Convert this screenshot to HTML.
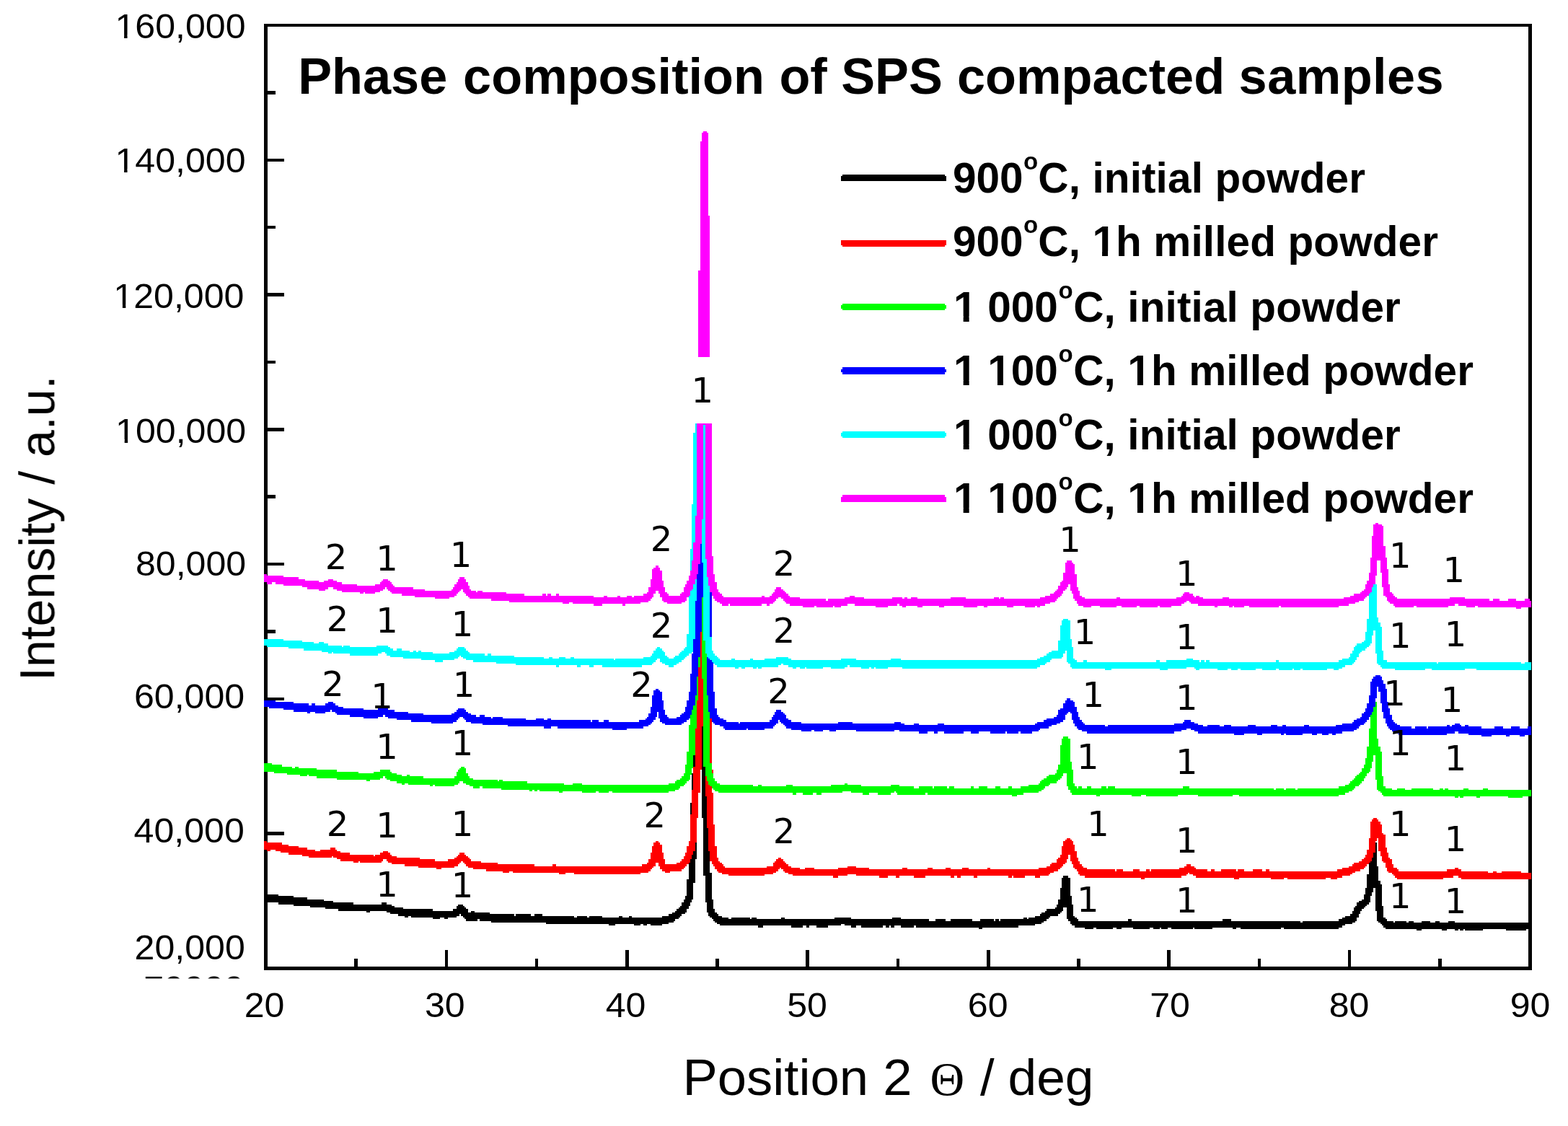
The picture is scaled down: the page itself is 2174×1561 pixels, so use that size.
<!DOCTYPE html>
<html lang="en">
<head>
<meta charset="utf-8">
<title>Phase composition of SPS compacted samples</title>
<style>
html,body{margin:0;padding:0;background:#fff;}
body{width:2174px;height:1561px;overflow:hidden;}
svg{display:block;}
text{font-family:"Liberation Sans",Arial,Helvetica,sans-serif;fill:#000;}
.tk{font-size:47.5px;}
.ttl{font-size:70.3px;font-weight:bold;}
.lg{font-size:58.5px;font-weight:bold;}
.sup{font-size:33px;}
.ax{font-size:70.5px;}
.ay{font-size:68px;}
.th{font-family:"Liberation Serif","DejaVu Serif",serif;font-size:66px;}
.an{font-family:"DejaVu Sans","Liberation Sans",sans-serif;font-size:48px;text-anchor:middle;}
</style>
</head>
<body>
<svg xmlns="http://www.w3.org/2000/svg" width="2174" height="1561" viewBox="0 0 2174 1561">
<rect width="2174" height="1561" fill="#fff"/>
<!-- frame and ticks -->
<g fill="#000" shape-rendering="crispEdges">
<rect x="366.0" y="32.7" width="1757.9" height="4.6"/>
<rect x="366.0" y="1340.0" width="1757.9" height="4.6"/>
<rect x="366.0" y="32.7" width="4.6" height="1311.9"/>
<rect x="2119.3" y="32.7" width="4.6" height="1311.9"/>
<rect x="366.0" y="1246.6" width="16.2" height="4.6"/>
<rect x="366.0" y="1153.2" width="27.9" height="4.6"/>
<rect x="366.0" y="1059.9" width="16.2" height="4.6"/>
<rect x="366.0" y="966.5" width="27.9" height="4.6"/>
<rect x="366.0" y="873.1" width="16.2" height="4.6"/>
<rect x="366.0" y="779.7" width="27.9" height="4.6"/>
<rect x="366.0" y="686.4" width="16.2" height="4.6"/>
<rect x="366.0" y="593.0" width="27.9" height="4.6"/>
<rect x="366.0" y="499.6" width="16.2" height="4.6"/>
<rect x="366.0" y="406.2" width="27.9" height="4.6"/>
<rect x="366.0" y="312.8" width="16.2" height="4.6"/>
<rect x="366.0" y="219.5" width="27.9" height="4.6"/>
<rect x="366.0" y="126.1" width="16.2" height="4.6"/>
<rect x="491.2" y="1328.5" width="4.6" height="16.1"/>
<rect x="616.5" y="1317.0" width="4.6" height="27.6"/>
<rect x="741.7" y="1328.5" width="4.6" height="16.1"/>
<rect x="866.9" y="1317.0" width="4.6" height="27.6"/>
<rect x="992.2" y="1328.5" width="4.6" height="16.1"/>
<rect x="1117.4" y="1317.0" width="4.6" height="27.6"/>
<rect x="1242.7" y="1328.5" width="4.6" height="16.1"/>
<rect x="1367.9" y="1317.0" width="4.6" height="27.6"/>
<rect x="1493.1" y="1328.5" width="4.6" height="16.1"/>
<rect x="1618.4" y="1317.0" width="4.6" height="27.6"/>
<rect x="1743.6" y="1328.5" width="4.6" height="16.1"/>
<rect x="1868.8" y="1317.0" width="4.6" height="27.6"/>
<rect x="1994.1" y="1328.5" width="4.6" height="16.1"/>
</g>
<g transform="scale(2.3)" shape-rendering="crispEdges"><path fill="#000000" d="M159 539h3v4h-3zM162 539h6v5h-6zM168 540h9v5h-9zM177 541h8v5h-8zM185 542h2v4h-2zM187 542h8v5h-8zM195 543h1v4h-1zM196 543h5v5h-5zM201 544h3v4h-3zM204 544h9v5h-9zM213 545h8v4h-8zM221 545h2v5h-2zM223 545h7v4h-7zM230 544h3v5h-3zM233 545h2v5h-2zM235 545h1v6h-1zM236 546h2v5h-2zM238 547h2v4h-2zM240 547h3v5h-3zM243 548h1v4h-1zM244 548h2v5h-2zM246 548h2v4h-2zM248 548h13v5h-13zM261 549h4v5h-4zM265 549h3v4h-3zM268 549h2v5h-2zM270 549h3v4h-3zM273 548h2v5h-2zM275 546h1v6h-1zM276 545h1v7h-1zM277 545h1v6h-1zM278 545h1v7h-1zM279 546h1v7h-1zM280 547h1v7h-1zM281 548h1v7h-1zM282 550h2v5h-2zM284 549h2v6h-2zM286 550h2v5h-2zM288 550h1v4h-1zM289 550h6v5h-6zM295 551h1v4h-1zM296 551h14v5h-14zM310 552h1v4h-1zM311 551h9v5h-9zM320 552h2v4h-2zM322 551h5v5h-5zM327 552h2v4h-2zM329 552h17v5h-17zM346 553h2v4h-2zM348 552h6v5h-6zM354 553h1v4h-1zM355 552h8v5h-8zM363 553h4v4h-4zM367 553h4v5h-4zM371 553h2v4h-2zM373 552h2v5h-2zM375 553h4v4h-4zM379 552h2v5h-2zM381 553h1v4h-1zM382 553h4v5h-4zM386 553h2v4h-2zM388 553h2v5h-2zM390 553h2v4h-2zM392 553h7v5h-7zM399 552h4v5h-4zM403 551h2v5h-2zM405 550h1v6h-1zM406 550h1v5h-1zM407 549h1v5h-1zM408 548h1v6h-1zM409 547h1v6h-1zM410 546h1v6h-1zM411 544h1v7h-1zM412 542h1v9h-1zM413 540h1v10h-1zM414 530h1v18h-1zM415 520h1v26h-1zM416 484h1v7h-1zM416 518h1v26h-1zM417 466h1v10h-1zM417 515h1v27h-1zM418 455h1v7h-1zM418 513h1v19h-1zM419 508h1v10h-1zM423 438h1v55h-1zM424 462h1v66h-1zM425 480h1v64h-1zM426 499h1v51h-1zM427 513h1v39h-1zM428 526h1v27h-1zM429 542h1v12h-1zM430 548h1v7h-1zM431 550h1v6h-1zM432 551h1v6h-1zM433 552h1v5h-1zM434 552h1v6h-1zM435 553h4v5h-4zM439 554h2v4h-2zM441 553h11v5h-11zM452 554h1v4h-1zM453 553h3v5h-3zM456 554h1v4h-1zM457 554h3v5h-3zM460 554h11v4h-11zM471 553h2v5h-2zM473 554h4v4h-4zM477 554h7v5h-7zM484 554h2v4h-2zM486 554h2v5h-2zM488 554h4v4h-4zM492 554h7v5h-7zM499 554h4v4h-4zM503 553h4v5h-4zM507 553h2v4h-2zM509 553h4v5h-4zM513 554h3v5h-3zM516 554h3v4h-3zM519 554h13v5h-13zM532 554h2v4h-2zM534 554h2v5h-2zM536 554h1v4h-1zM537 554h1v5h-1zM538 553h1v6h-1zM539 553h4v5h-4zM543 554h8v5h-8zM551 554h1v4h-1zM552 554h8v5h-8zM560 555h4v4h-4zM564 554h6v5h-6zM570 555h3v4h-3zM573 554h13v5h-13zM586 555h4v4h-4zM590 555h1v5h-1zM591 554h1v6h-1zM592 554h7v5h-7zM599 555h1v4h-1zM600 554h2v5h-2zM602 555h1v4h-1zM603 554h11v5h-11zM614 554h3v4h-3zM617 553h2v5h-2zM619 554h1v4h-1zM620 553h4v5h-4zM624 552h3v5h-3zM627 551h1v6h-1zM628 550h1v6h-1zM629 550h1v5h-1zM630 549h1v6h-1zM631 548h1v6h-1zM632 548h1v5h-1zM633 548h3v4h-3zM636 547h1v5h-1zM637 545h1v7h-1zM638 542h1v9h-1zM639 535h1v15h-1zM640 529h1v20h-1zM641 528h2v19h-2zM643 528h1v26h-1zM644 529h1v26h-1zM645 540h1v17h-1zM646 545h1v13h-1zM647 552h1v6h-1zM648 553h1v6h-1zM649 554h1v5h-1zM650 555h4v4h-4zM654 555h5v5h-5zM659 555h2v4h-2zM661 555h10v5h-10zM671 555h2v4h-2zM673 555h3v5h-3zM676 555h4v4h-4zM680 554h2v5h-2zM682 555h1v4h-1zM683 555h10v5h-10zM693 555h2v4h-2zM695 555h4v5h-4zM699 555h1v4h-1zM700 555h4v5h-4zM704 555h2v4h-2zM706 555h13v5h-13zM719 555h1v4h-1zM720 555h11v5h-11zM731 555h6v4h-6zM737 554h5v5h-5zM742 555h1v4h-1zM743 555h2v5h-2zM745 555h3v4h-3zM748 555h24v5h-24zM772 555h2v4h-2zM774 555h10v5h-10zM784 556h1v4h-1zM785 555h22v5h-22zM807 554h2v5h-2zM809 553h2v5h-2zM811 552h3v5h-3zM814 551h1v6h-1zM815 549h1v7h-1zM816 547h1v9h-1zM817 546h1v9h-1zM818 544h1v9h-1zM819 543h1v8h-1zM820 543h1v6h-1zM821 542h1v6h-1zM822 539h1v8h-1zM823 535h1v11h-1zM824 527h1v18h-1zM825 520h1v24h-1zM826 519h1v21h-1zM827 517h1v21h-1zM828 514h1v21h-1zM829 508h1v41h-1zM830 522h1v33h-1zM831 531h1v25h-1zM832 533h1v24h-1zM833 546h1v12h-1zM834 553h1v6h-1zM835 554h1v6h-1zM836 555h4v5h-4zM840 556h1v4h-1zM841 555h7v5h-7zM848 556h1v4h-1zM849 555h3v5h-3zM852 556h2v4h-2zM854 556h3v5h-3zM857 555h5v5h-5zM862 556h3v4h-3zM865 555h3v5h-3zM868 556h1v4h-1zM869 556h3v5h-3zM872 556h1v4h-1zM873 555h4v5h-4zM877 556h2v5h-2zM879 556h1v4h-1zM880 556h2v5h-2zM882 556h1v4h-1zM883 556h11v5h-11zM894 556h14v4h-14zM908 556h12v5h-12zM920 556h2v4h-2zM922 556h1v5h-1z"/><path fill="#ff0000" d="M159 507h2v5h-2zM161 508h2v5h-2zM163 508h3v4h-3zM166 508h3v5h-3zM169 508h1v6h-1zM170 509h4v5h-4zM174 510h6v5h-6zM180 511h2v4h-2zM182 511h3v5h-3zM185 512h1v4h-1zM186 512h4v5h-4zM190 513h3v4h-3zM193 512h6v5h-6zM199 511h1v6h-1zM200 511h1v5h-1zM201 511h1v6h-1zM202 512h1v5h-1zM203 513h2v5h-2zM205 514h6v5h-6zM211 515h2v4h-2zM213 515h3v5h-3zM216 515h1v4h-1zM217 515h8v5h-8zM225 516h1v4h-1zM226 515h3v5h-3zM229 514h1v6h-1zM230 514h1v5h-1zM231 513h2v5h-2zM233 513h1v6h-1zM234 514h1v6h-1zM235 515h1v5h-1zM236 516h3v5h-3zM239 517h5v4h-5zM244 517h8v5h-8zM252 517h1v6h-1zM253 518h9v5h-9zM262 519h1v4h-1zM263 519h3v5h-3zM266 519h4v4h-4zM270 518h4v5h-4zM274 517h1v5h-1zM275 516h1v6h-1zM276 515h1v6h-1zM277 514h1v6h-1zM278 514h1v5h-1zM279 514h1v6h-1zM280 515h1v6h-1zM281 516h1v6h-1zM282 517h1v6h-1zM283 518h1v5h-1zM284 519h1v4h-1zM285 519h5v5h-5zM290 520h3v4h-3zM293 520h7v5h-7zM300 521h3v4h-3zM303 521h4v5h-4zM307 521h2v4h-2zM309 521h13v5h-13zM322 522h11v4h-11zM333 521h2v5h-2zM335 522h2v4h-2zM337 522h4v5h-4zM341 522h5v4h-5zM346 522h40v5h-40zM386 522h1v4h-1zM387 521h3v5h-3zM390 520h1v6h-1zM391 518h1v7h-1zM392 514h1v10h-1zM393 510h1v13h-1zM394 508h1v14h-1zM395 507h2v13h-2zM397 508h1v14h-1zM398 509h1v15h-1zM399 514h1v11h-1zM400 518h1v7h-1zM401 521h3v5h-3zM404 521h4v4h-4zM408 520h2v5h-2zM410 519h1v6h-1zM411 518h1v6h-1zM412 516h1v7h-1zM413 514h1v8h-1zM414 510h1v11h-1zM415 507h1v13h-1zM416 491h1v27h-1zM417 476h1v39h-1zM418 462h1v51h-1zM419 439h1v69h-1zM420 422h1v71h-1zM421 402h1v76h-1zM422 381h1v83h-1zM423 409h1v29h-1zM425 468h1v12h-1zM426 471h1v28h-1zM427 473h1v40h-1zM428 433h1v27h-1zM428 474h1v45h-1zM429 464h1v2h-1zM429 478h1v43h-1zM430 497h1v25h-1zM431 510h1v14h-1zM432 517h1v8h-1zM433 519h1v7h-1zM434 520h1v6h-1zM435 521h1v6h-1zM436 522h1v5h-1zM437 523h2v4h-2zM439 523h22v5h-22zM461 523h1v4h-1zM462 522h4v5h-4zM466 520h1v6h-1zM467 519h1v7h-1zM468 518h1v7h-1zM469 517h1v7h-1zM470 517h1v6h-1zM471 518h1v6h-1zM472 519h1v6h-1zM473 520h1v6h-1zM474 521h1v5h-1zM475 522h2v5h-2zM477 523h1v4h-1zM478 523h4v5h-4zM482 524h3v4h-3zM485 523h6v5h-6zM491 524h11v4h-11zM502 524h3v5h-3zM505 523h6v5h-6zM511 522h5v5h-5zM516 523h8v5h-8zM524 524h6v4h-6zM530 524h5v5h-5zM535 524h5v4h-5zM540 524h2v5h-2zM542 524h2v4h-2zM544 523h3v5h-3zM547 524h4v4h-4zM551 524h7v5h-7zM558 524h1v4h-1zM559 523h3v5h-3zM562 524h8v4h-8zM570 523h3v5h-3zM573 524h2v5h-2zM575 524h2v4h-2zM577 524h2v5h-2zM579 524h1v4h-1zM580 523h4v5h-4zM584 524h3v4h-3zM587 524h2v5h-2zM589 524h6v4h-6zM595 523h2v5h-2zM597 524h11v4h-11zM608 524h2v5h-2zM610 524h1v4h-1zM611 524h7v5h-7zM618 524h6v4h-6zM624 524h2v5h-2zM626 523h1v6h-1zM627 523h4v5h-4zM631 522h1v6h-1zM632 522h1v5h-1zM633 521h1v5h-1zM634 520h1v6h-1zM635 520h2v5h-2zM637 518h1v7h-1zM638 517h1v7h-1zM639 515h1v8h-1zM640 510h1v12h-1zM641 507h1v14h-1zM642 506h1v14h-1zM643 505h1v13h-1zM644 505h1v10h-1zM645 506h1v13h-1zM646 507h1v14h-1zM647 509h1v14h-1zM648 513h1v11h-1zM649 517h1v8h-1zM650 519h1v8h-1zM651 521h1v7h-1zM652 522h1v6h-1zM653 523h1v5h-1zM654 523h1v6h-1zM655 524h17v5h-17zM672 525h1v4h-1zM673 524h4v5h-4zM677 525h6v4h-6zM683 524h4v5h-4zM687 525h1v4h-1zM688 525h2v5h-2zM690 525h1v4h-1zM691 524h2v5h-2zM693 525h1v4h-1zM694 524h17v5h-17zM711 523h1v6h-1zM712 523h2v5h-2zM714 522h1v6h-1zM715 521h1v6h-1zM716 521h1v5h-1zM717 521h1v6h-1zM718 522h1v5h-1zM719 522h1v6h-1zM720 523h1v5h-1zM721 524h7v5h-7zM728 525h2v4h-2zM730 524h2v5h-2zM732 525h4v4h-4zM736 524h8v5h-8zM744 524h1v6h-1zM745 525h1v5h-1zM746 524h1v6h-1zM747 524h3v5h-3zM750 525h5v4h-5zM755 524h6v5h-6zM761 525h2v4h-2zM763 524h2v5h-2zM765 525h1v4h-1zM766 525h8v5h-8zM774 525h2v4h-2zM776 525h23v5h-23zM799 525h3v4h-3zM802 525h4v5h-4zM806 524h3v5h-3zM809 523h4v5h-4zM813 522h1v6h-1zM814 522h1v5h-1zM815 521h1v5h-1zM816 520h1v6h-1zM817 520h2v5h-2zM819 519h1v6h-1zM820 519h1v5h-1zM821 518h1v6h-1zM822 517h1v6h-1zM823 515h1v7h-1zM824 512h1v9h-1zM825 505h1v15h-1zM826 495h1v24h-1zM827 494h1v23h-1zM828 493h1v21h-1zM829 493h1v14h-1zM830 494h1v11h-1zM831 495h1v18h-1zM832 497h1v19h-1zM833 502h1v17h-1zM834 503h1v17h-1zM835 511h1v12h-1zM836 514h1v11h-1zM837 517h1v9h-1zM838 518h1v8h-1zM839 521h1v6h-1zM840 523h1v5h-1zM841 523h1v6h-1zM842 524h1v6h-1zM843 525h27v5h-27zM870 525h2v4h-2zM872 524h4v5h-4zM876 524h1v4h-1zM877 523h2v5h-2zM879 524h2v5h-2zM881 525h16v5h-16zM897 526h3v4h-3zM900 525h2v5h-2zM902 526h3v4h-3zM905 525h12v5h-12zM917 526h6v4h-6z"/><path fill="#00ff00" d="M159 460h5v5h-5zM164 461h1v4h-1zM165 461h5v5h-5zM170 462h3v4h-3zM173 462h3v5h-3zM176 463h2v4h-2zM178 462h2v5h-2zM180 463h1v4h-1zM181 463h4v5h-4zM185 463h1v4h-1zM186 463h5v5h-5zM191 464h12v5h-12zM203 465h13v5h-13zM216 466h5v4h-5zM221 466h2v5h-2zM223 466h2v4h-2zM225 465h4v5h-4zM229 464h2v5h-2zM231 464h1v4h-1zM232 464h1v5h-1zM233 464h2v6h-2zM235 465h1v6h-1zM236 466h3v5h-3zM239 467h3v5h-3zM242 468h2v5h-2zM244 468h1v4h-1zM245 467h1v5h-1zM246 467h1v6h-1zM247 468h8v5h-8zM255 469h4v4h-4zM259 469h2v5h-2zM261 469h1v4h-1zM262 469h12v5h-12zM274 468h1v5h-1zM275 465h1v8h-1zM276 464h1v8h-1zM277 463h1v8h-1zM278 462h1v9h-1zM279 462h1v10h-1zM280 463h1v9h-1zM281 466h1v7h-1zM282 468h1v5h-1zM283 469h2v5h-2zM285 470h4v5h-4zM289 470h2v4h-2zM291 470h9v5h-9zM300 471h1v4h-1zM301 470h1v5h-1zM302 470h1v6h-1zM303 471h15v5h-15zM318 472h1v4h-1zM319 472h2v5h-2zM321 472h1v4h-1zM322 472h2v5h-2zM324 472h1v4h-1zM325 472h12v5h-12zM337 472h2v6h-2zM339 472h1v5h-1zM340 473h5v4h-5zM345 472h6v5h-6zM351 473h8v5h-8zM359 473h2v4h-2zM361 473h6v5h-6zM367 473h2v4h-2zM369 473h34v5h-34zM403 472h4v5h-4zM407 471h1v5h-1zM408 470h1v6h-1zM409 470h1v5h-1zM410 469h1v5h-1zM411 468h1v6h-1zM412 466h1v7h-1zM413 461h1v11h-1zM414 453h1v18h-1zM415 437h1v33h-1zM416 431h1v36h-1zM417 428h1v35h-1zM418 425h1v30h-1zM419 419h1v20h-1zM420 408h1v14h-1zM421 396h1v6h-1zM423 360h1v49h-1zM424 386h1v76h-1zM425 394h1v74h-1zM426 419h1v52h-1zM427 429h1v44h-1zM428 460h1v14h-1zM429 466h1v9h-1zM430 469h1v7h-1zM431 471h1v6h-1zM432 472h1v5h-1zM433 472h1v6h-1zM434 473h20v5h-20zM454 474h3v4h-3zM457 473h2v5h-2zM459 474h15v4h-15zM474 473h4v5h-4zM478 474h2v5h-2zM480 474h4v4h-4zM484 474h6v5h-6zM490 474h2v4h-2zM492 474h3v5h-3zM495 474h6v4h-6zM501 473h7v5h-7zM508 473h1v4h-1zM509 472h2v5h-2zM511 473h2v4h-2zM513 473h6v5h-6zM519 474h1v4h-1zM520 474h4v5h-4zM524 474h5v4h-5zM529 474h8v5h-8zM537 473h2v5h-2zM539 473h1v4h-1zM540 473h1v5h-1zM541 473h1v6h-1zM542 474h9v5h-9zM551 475h3v4h-3zM554 474h4v5h-4zM558 474h1v4h-1zM559 474h3v5h-3zM562 475h1v4h-1zM563 474h8v5h-8zM571 475h1v4h-1zM572 474h3v5h-3zM575 475h10v4h-10zM585 474h2v5h-2zM587 475h3v4h-3zM590 474h5v5h-5zM595 475h5v4h-5zM600 474h3v5h-3zM603 475h5v4h-5zM608 474h2v5h-2zM610 475h3v5h-3zM613 475h2v4h-2zM615 474h2v5h-2zM617 474h3v4h-3zM620 473h6v5h-6zM626 472h1v5h-1zM627 471h1v6h-1zM628 470h1v6h-1zM629 469h1v6h-1zM630 469h1v5h-1zM631 468h1v6h-1zM632 467h1v6h-1zM633 467h3v5h-3zM636 466h1v6h-1zM637 464h1v7h-1zM638 461h1v9h-1zM639 449h1v20h-1zM640 445h1v23h-1zM641 444h2v22h-2zM643 444h1v30h-1zM644 445h1v31h-1zM645 459h1v19h-1zM646 464h1v15h-1zM647 472h1v7h-1zM648 474h1v5h-1zM649 475h1v4h-1zM650 474h2v5h-2zM652 475h3v4h-3zM655 474h3v5h-3zM658 475h3v4h-3zM661 475h2v5h-2zM663 475h1v4h-1zM664 474h3v5h-3zM667 475h1v4h-1zM668 474h4v5h-4zM672 475h10v4h-10zM682 475h6v5h-6zM688 475h3v4h-3zM691 475h19v5h-19zM710 475h3v4h-3zM713 474h4v5h-4zM717 475h5v4h-5zM722 475h21v5h-21zM743 475h4v4h-4zM747 475h21v5h-21zM768 476h1v4h-1zM769 475h5v5h-5zM774 476h1v4h-1zM775 475h6v5h-6zM781 476h1v4h-1zM782 475h25v5h-25zM807 474h4v5h-4zM811 473h2v5h-2zM813 472h1v5h-1zM814 471h1v6h-1zM815 470h1v6h-1zM816 469h1v6h-1zM817 468h1v6h-1zM818 467h1v7h-1zM819 466h1v7h-1zM820 465h1v7h-1zM821 463h1v8h-1zM822 461h1v8h-1zM823 457h1v11h-1zM824 450h1v16h-1zM825 439h1v26h-1zM826 431h1v32h-1zM827 429h1v30h-1zM828 426h1v29h-1zM829 423h1v47h-1zM830 445h1v31h-1zM831 450h1v27h-1zM832 453h1v25h-1zM833 468h1v11h-1zM834 474h1v6h-1zM835 475h4v5h-4zM839 476h3v4h-3zM842 475h5v5h-5zM847 476h4v4h-4zM851 475h13v5h-13zM864 476h4v4h-4zM868 475h2v5h-2zM870 476h1v4h-1zM871 475h2v5h-2zM873 476h4v4h-4zM877 476h2v5h-2zM879 476h1v4h-1zM880 476h2v5h-2zM882 475h3v5h-3zM885 476h5v4h-5zM890 476h2v5h-2zM892 476h2v4h-2zM894 475h3v5h-3zM897 476h12v4h-12zM909 476h9v5h-9zM918 476h5v4h-5z"/><path fill="#0000ff" d="M159 422h3v4h-3zM162 422h4v5h-4zM166 423h5v4h-5zM171 423h6v5h-6zM177 424h8v5h-8zM185 424h1v6h-1zM186 425h1v5h-1zM187 425h1v4h-1zM188 424h2v5h-2zM190 425h6v5h-6zM196 424h2v5h-2zM198 423h1v6h-1zM199 423h1v5h-1zM200 423h1v6h-1zM201 424h1v5h-1zM202 425h1v5h-1zM203 425h1v6h-1zM204 426h3v5h-3zM207 427h4v4h-4zM211 427h8v5h-8zM219 428h9v5h-9zM228 427h1v5h-1zM229 426h2v6h-2zM231 426h1v5h-1zM232 427h2v5h-2zM234 428h4v5h-4zM238 429h1v4h-1zM239 429h7v5h-7zM246 430h2v4h-2zM248 430h7v5h-7zM255 431h5v4h-5zM260 431h12v5h-12zM272 430h1v6h-1zM273 430h1v5h-1zM274 429h1v6h-1zM275 428h1v6h-1zM276 427h1v6h-1zM277 427h2v5h-2zM279 427h1v6h-1zM280 428h1v6h-1zM281 429h1v6h-1zM282 430h2v5h-2zM284 431h3v5h-3zM287 432h2v4h-2zM289 431h2v5h-2zM291 431h1v6h-1zM292 432h4v5h-4zM296 433h1v4h-1zM297 432h6v5h-6zM303 433h3v4h-3zM306 433h11v5h-11zM317 434h6v4h-6zM323 433h5v5h-5zM328 434h2v5h-2zM330 433h2v6h-2zM332 434h4v4h-4zM336 434h20v5h-20zM356 435h1v4h-1zM357 434h4v5h-4zM361 435h3v4h-3zM364 434h3v5h-3zM367 435h2v4h-2zM369 435h9v5h-9zM378 435h7v4h-7zM385 434h3v5h-3zM388 434h1v4h-1zM389 433h1v5h-1zM390 432h1v6h-1zM391 430h1v7h-1zM392 426h1v10h-1zM393 419h1v16h-1zM394 416h1v18h-1zM395 415h1v17h-1zM396 415h1v14h-1zM397 416h1v17h-1zM398 417h1v18h-1zM399 422h1v14h-1zM400 428h1v8h-1zM401 431h1v6h-1zM402 432h1v5h-1zM403 433h5v4h-5zM408 432h2v5h-2zM410 431h1v6h-1zM411 430h1v6h-1zM412 429h1v6h-1zM413 426h1v9h-1zM414 422h1v12h-1zM415 417h1v16h-1zM416 406h1v25h-1zM417 394h1v34h-1zM418 385h1v40h-1zM419 362h1v57h-1zM420 346h1v62h-1zM421 340h1v56h-1zM422 328h1v53h-1zM423 339h1v21h-1zM426 396h1v23h-1zM427 397h1v32h-1zM428 357h1v27h-1zM428 398h1v35h-1zM429 399h1v36h-1zM430 417h1v19h-1zM431 427h1v10h-1zM432 431h1v6h-1zM433 432h1v5h-1zM434 433h2v5h-2zM436 434h1v5h-1zM437 434h1v6h-1zM438 435h7v5h-7zM445 436h1v4h-1zM446 435h4v5h-4zM450 435h1v4h-1zM451 435h10v5h-10zM461 435h3v4h-3zM464 434h1v5h-1zM465 432h1v7h-1zM466 431h1v7h-1zM467 429h1v8h-1zM468 428h1v8h-1zM469 428h1v6h-1zM470 428h1v7h-1zM471 429h1v7h-1zM472 430h1v7h-1zM473 431h1v7h-1zM474 433h1v6h-1zM475 434h2v5h-2zM477 435h6v5h-6zM483 436h6v5h-6zM489 436h2v4h-2zM491 436h5v5h-5zM496 436h4v4h-4zM500 436h4v5h-4zM504 436h1v4h-1zM505 435h9v5h-9zM514 436h2v4h-2zM516 436h23v5h-23zM539 435h3v5h-3zM542 435h1v6h-1zM543 436h2v5h-2zM545 437h6v4h-6zM551 436h3v5h-3zM554 437h5v5h-5zM559 437h4v4h-4zM563 437h2v5h-2zM565 436h4v5h-4zM569 437h12v5h-12zM581 437h4v4h-4zM585 437h5v5h-5zM590 437h7v4h-7zM597 437h9v5h-9zM606 437h1v4h-1zM607 437h7v5h-7zM614 437h1v4h-1zM615 437h7v5h-7zM622 437h2v4h-2zM624 436h1v5h-1zM625 435h1v6h-1zM626 435h1v5h-1zM627 435h2v4h-2zM629 434h2v5h-2zM631 433h1v6h-1zM632 433h2v5h-2zM634 433h1v4h-1zM635 432h2v5h-2zM637 431h1v5h-1zM638 428h1v8h-1zM639 427h2v8h-2zM641 424h1v10h-1zM642 422h1v9h-1zM643 421h1v9h-1zM644 421h1v8h-1zM645 422h1v8h-1zM646 422h1v12h-1zM647 423h1v13h-1zM648 426h1v12h-1zM649 429h1v10h-1zM650 432h1v8h-1zM651 434h1v6h-1zM652 435h1v6h-1zM653 436h1v5h-1zM654 437h1v4h-1zM655 437h11v5h-11zM666 438h2v4h-2zM668 437h40v5h-40zM708 436h4v5h-4zM712 436h1v4h-1zM713 435h1v5h-1zM714 434h1v6h-1zM715 434h3v5h-3zM718 435h2v5h-2zM720 436h2v5h-2zM722 437h3v5h-3zM725 438h3v4h-3zM728 437h7v5h-7zM735 438h3v4h-3zM738 437h4v5h-4zM742 438h2v4h-2zM744 438h6v5h-6zM750 438h2v4h-2zM752 437h5v5h-5zM757 438h1v4h-1zM758 438h3v5h-3zM761 438h5v4h-5zM766 437h4v5h-4zM770 438h2v4h-2zM772 438h1v5h-1zM773 437h1v6h-1zM774 437h1v5h-1zM775 438h10v5h-10zM785 438h1v4h-1zM786 437h3v5h-3zM789 438h2v4h-2zM791 438h3v5h-3zM794 438h3v4h-3zM797 438h4v5h-4zM801 438h2v4h-2zM803 438h2v5h-2zM805 437h4v5h-4zM809 436h6v5h-6zM815 435h1v6h-1zM816 434h2v6h-2zM818 433h1v6h-1zM819 433h1v5h-1zM820 432h1v5h-1zM821 430h1v7h-1zM822 429h1v7h-1zM823 427h1v8h-1zM824 424h1v10h-1zM825 419h1v13h-1zM826 411h1v20h-1zM827 409h1v20h-1zM828 408h1v18h-1zM829 407h1v14h-1zM830 407h1v7h-1zM831 407h1v10h-1zM832 408h1v16h-1zM833 410h1v19h-1zM834 412h1v21h-1zM835 415h1v21h-1zM836 423h1v15h-1zM837 427h1v12h-1zM838 431h1v9h-1zM839 434h1v7h-1zM840 435h1v6h-1zM841 436h1v5h-1zM842 437h1v5h-1zM843 437h1v6h-1zM844 438h7v5h-7zM851 439h2v4h-2zM853 438h7v5h-7zM860 439h1v4h-1zM861 438h11v5h-11zM872 437h2v5h-2zM874 438h1v4h-1zM875 437h2v5h-2zM877 436h2v5h-2zM879 436h1v6h-1zM880 437h1v5h-1zM881 438h2v4h-2zM883 437h2v5h-2zM885 438h8v5h-8zM893 439h6v5h-6zM899 439h2v4h-2zM901 438h5v5h-5zM906 439h2v4h-2zM908 439h2v5h-2zM910 439h1v4h-1zM911 438h5v5h-5zM916 439h3v5h-3zM919 439h2v4h-2zM921 438h2v5h-2z"/><path fill="#00ffff" d="M159 385h2v4h-2zM161 385h10v5h-10zM171 386h3v4h-3zM174 386h8v5h-8zM182 387h1v4h-1zM183 387h6v5h-6zM189 388h3v4h-3zM192 387h2v5h-2zM194 387h1v6h-1zM195 388h3v5h-3zM198 389h2v5h-2zM200 389h1v4h-1zM201 389h5v5h-5zM206 390h1v4h-1zM207 389h4v5h-4zM211 390h16v5h-16zM227 389h1v6h-1zM228 389h2v5h-2zM230 389h2v4h-2zM232 389h1v5h-1zM233 389h1v6h-1zM234 390h1v5h-1zM235 391h2v5h-2zM237 392h2v4h-2zM239 391h3v5h-3zM242 392h1v4h-1zM243 392h4v5h-4zM247 393h2v4h-2zM249 392h2v5h-2zM251 393h1v4h-1zM252 392h2v5h-2zM254 393h7v5h-7zM261 394h1v4h-1zM262 394h5v5h-5zM267 394h4v4h-4zM271 393h3v5h-3zM274 392h1v5h-1zM275 391h1v6h-1zM276 390h1v6h-1zM277 390h1v5h-1zM278 390h1v6h-1zM279 390h1v7h-1zM280 391h1v6h-1zM281 392h1v6h-1zM282 393h1v5h-1zM283 394h2v4h-2zM285 394h7v5h-7zM292 395h2v4h-2zM294 394h2v5h-2zM296 395h3v4h-3zM299 395h11v5h-11zM310 396h1v4h-1zM311 396h17v5h-17zM328 397h3v4h-3zM331 396h2v5h-2zM333 397h2v4h-2zM335 397h2v5h-2zM337 396h4v5h-4zM341 397h3v4h-3zM344 396h2v5h-2zM346 397h2v4h-2zM348 397h2v5h-2zM350 397h5v4h-5zM355 397h3v5h-3zM358 397h5v4h-5zM363 397h7v5h-7zM370 398h1v4h-1zM371 397h16v5h-16zM387 397h1v4h-1zM388 396h4v5h-4zM392 395h1v6h-1zM393 394h1v6h-1zM394 392h1v7h-1zM395 391h1v7h-1zM396 390h2v7h-2zM398 391h1v8h-1zM399 392h1v8h-1zM400 393h1v7h-1zM401 395h1v6h-1zM402 396h1v5h-1zM403 397h3v5h-3zM406 396h1v5h-1zM407 395h1v6h-1zM408 395h1v5h-1zM409 394h1v5h-1zM410 393h1v6h-1zM411 392h1v6h-1zM412 391h1v6h-1zM413 390h1v6h-1zM414 382h1v13h-1zM415 359h1v35h-1zM416 331h1v13h-1zM416 356h1v38h-1zM417 304h1v34h-1zM417 355h1v38h-1zM418 261h1v66h-1zM418 352h1v33h-1zM419 255h1v56h-1zM419 349h1v13h-1zM423 313h1v26h-1zM424 256h1v130h-1zM425 337h1v57h-1zM426 348h1v48h-1zM427 353h1v44h-1zM428 384h1v14h-1zM429 392h1v7h-1zM430 394h1v6h-1zM431 395h1v6h-1zM432 396h1v6h-1zM433 397h1v5h-1zM434 398h7v4h-7zM441 397h2v5h-2zM443 398h2v5h-2zM445 398h2v4h-2zM447 398h2v5h-2zM449 398h3v4h-3zM452 397h2v5h-2zM454 398h2v5h-2zM456 398h1v4h-1zM457 398h2v5h-2zM459 398h2v4h-2zM461 397h7v5h-7zM468 396h1v6h-1zM469 396h2v5h-2zM471 396h1v4h-1zM472 396h3v5h-3zM475 397h2v5h-2zM477 398h1v4h-1zM478 398h2v5h-2zM480 398h2v4h-2zM482 398h3v5h-3zM485 398h1v4h-1zM486 398h10v5h-10zM496 398h5v4h-5zM501 398h6v5h-6zM507 397h2v6h-2zM509 397h2v5h-2zM511 397h1v4h-1zM512 397h4v5h-4zM516 398h3v4h-3zM519 398h5v5h-5zM524 398h1v4h-1zM525 398h2v5h-2zM527 398h1v4h-1zM528 398h7v5h-7zM535 398h2v4h-2zM537 397h6v5h-6zM543 398h1v4h-1zM544 398h81v5h-81zM625 397h2v5h-2zM627 396h2v5h-2zM629 395h1v6h-1zM630 395h1v5h-1zM631 394h1v5h-1zM632 393h1v6h-1zM633 393h1v5h-1zM634 392h4v5h-4zM638 386h1v11h-1zM639 377h1v20h-1zM640 374h1v22h-1zM641 373h1v21h-1zM642 373h1v19h-1zM643 373h1v26h-1zM644 374h1v26h-1zM645 385h1v17h-1zM646 390h1v13h-1zM647 397h1v6h-1zM648 398h1v5h-1zM649 399h4v4h-4zM653 398h2v5h-2zM655 399h11v4h-11zM666 399h4v5h-4zM670 399h27v4h-27zM697 398h2v5h-2zM699 399h4v5h-4zM703 398h1v6h-1zM704 398h11v5h-11zM715 397h4v5h-4zM719 398h1v4h-1zM720 398h1v5h-1zM721 398h2v6h-2zM723 399h1v4h-1zM724 398h2v5h-2zM726 399h1v4h-1zM727 398h2v5h-2zM729 399h5v4h-5zM734 399h6v5h-6zM740 399h2v4h-2zM742 399h4v5h-4zM746 399h2v4h-2zM748 399h9v5h-9zM757 399h4v4h-4zM761 399h8v5h-8zM769 398h2v5h-2zM771 399h8v5h-8zM779 399h1v4h-1zM780 399h4v5h-4zM784 399h1v4h-1zM785 399h15v5h-15zM800 399h4v4h-4zM804 399h3v5h-3zM807 398h2v5h-2zM809 397h2v5h-2zM811 397h2v4h-2zM813 396h1v5h-1zM814 394h1v7h-1zM815 392h1v8h-1zM816 390h1v9h-1zM817 389h1v9h-1zM818 388h1v8h-1zM819 388h1v6h-1zM820 388h1v5h-1zM821 387h1v5h-1zM822 386h1v6h-1zM823 381h1v10h-1zM824 373h1v17h-1zM825 358h1v31h-1zM826 357h1v31h-1zM827 354h1v29h-1zM828 352h1v28h-1zM829 352h1v42h-1zM830 372h1v28h-1zM831 375h1v26h-1zM832 378h1v24h-1zM833 392h1v11h-1zM834 398h2v5h-2zM836 399h5v4h-5zM841 399h18v5h-18zM859 399h4v4h-4zM863 399h3v5h-3zM866 400h1v4h-1zM867 399h16v5h-16zM883 399h7v4h-7zM890 399h27v5h-27zM917 400h2v4h-2zM919 399h4v5h-4z"/><path fill="#ff00ff" d="M159 346h2v5h-2zM161 347h3v5h-3zM164 347h2v4h-2zM166 347h5v5h-5zM171 348h9v5h-9zM180 349h2v4h-2zM182 349h2v5h-2zM184 350h1v4h-1zM185 350h7v5h-7zM192 351h3v5h-3zM195 350h1v6h-1zM196 350h2v5h-2zM198 349h3v5h-3zM201 350h2v5h-2zM203 351h3v5h-3zM206 352h9v5h-9zM215 353h2v4h-2zM217 353h2v5h-2zM219 353h1v4h-1zM220 353h6v5h-6zM226 352h3v5h-3zM229 351h1v5h-1zM230 350h1v6h-1zM231 349h1v6h-1zM232 349h1v5h-1zM233 349h1v6h-1zM234 350h1v6h-1zM235 351h1v6h-1zM236 352h1v6h-1zM237 353h1v5h-1zM238 354h4v4h-4zM242 354h7v5h-7zM249 355h1v4h-1zM250 355h6v5h-6zM256 356h6v4h-6zM262 356h9v5h-9zM271 356h1v4h-1zM272 355h1v5h-1zM273 354h1v6h-1zM274 352h1v7h-1zM275 351h1v7h-1zM276 349h1v8h-1zM277 348h1v8h-1zM278 348h1v7h-1zM279 348h1v9h-1zM280 349h1v9h-1zM281 351h1v8h-1zM282 353h1v7h-1zM283 355h1v6h-1zM284 356h3v5h-3zM287 357h1v4h-1zM288 356h3v5h-3zM291 357h5v4h-5zM296 357h9v5h-9zM305 358h2v4h-2zM307 358h9v5h-9zM316 359h11v4h-11zM327 358h2v5h-2zM329 359h1v4h-1zM330 358h2v5h-2zM332 359h3v4h-3zM335 358h2v5h-2zM337 359h2v4h-2zM339 359h4v5h-4zM343 359h2v4h-2zM345 359h13v5h-13zM358 360h5v5h-5zM363 360h1v4h-1zM364 359h2v5h-2zM366 360h6v4h-6zM372 359h2v5h-2zM374 360h1v4h-1zM375 360h2v5h-2zM377 360h1v4h-1zM378 359h3v5h-3zM381 360h1v4h-1zM382 359h4v5h-4zM386 359h2v4h-2zM388 358h2v5h-2zM390 357h1v6h-1zM391 354h1v8h-1zM392 349h1v12h-1zM393 343h1v17h-1zM394 342h1v16h-1zM395 341h2v15h-2zM397 342h1v16h-1zM398 344h1v16h-1zM399 350h1v12h-1zM400 354h1v9h-1zM401 357h1v6h-1zM402 358h1v6h-1zM403 359h7v5h-7zM410 358h1v6h-1zM411 357h1v6h-1zM412 354h1v9h-1zM413 352h1v10h-1zM414 350h1v10h-1zM415 347h1v12h-1zM416 344h1v12h-1zM417 338h1v17h-1zM418 327h1v25h-1zM419 311h1v38h-1zM420 255h1v91h-1zM421 163h1v52h-1zM421 255h1v85h-1zM422 85h1v130h-1zM422 255h1v73h-1zM423 80h1v135h-1zM423 255h1v58h-1zM424 79h2v136h-2zM424 255h1v1h-1zM425 255h1v82h-1zM426 80h1v135h-1zM426 255h1v93h-1zM427 130h1v85h-1zM427 255h1v98h-1zM428 255h1v102h-1zM429 335h1v24h-1zM430 346h1v15h-1zM431 351h1v11h-1zM432 355h1v8h-1zM433 357h1v6h-1zM434 358h1v6h-1zM435 359h1v6h-1zM436 360h3v5h-3zM439 360h1v4h-1zM440 360h19v5h-19zM459 359h2v5h-2zM461 360h1v4h-1zM462 360h2v5h-2zM464 359h1v5h-1zM465 358h1v6h-1zM466 357h1v6h-1zM467 355h1v7h-1zM468 354h1v7h-1zM469 354h2v6h-2zM471 355h1v6h-1zM472 356h1v6h-1zM473 357h1v6h-1zM474 358h1v6h-1zM475 359h1v5h-1zM476 360h6v5h-6zM482 361h2v4h-2zM484 361h7v5h-7zM491 361h1v4h-1zM492 361h6v5h-6zM498 362h1v4h-1zM499 361h3v5h-3zM502 361h1v4h-1zM503 361h4v5h-4zM507 361h2v4h-2zM509 360h2v5h-2zM511 360h1v4h-1zM512 359h3v5h-3zM515 360h6v5h-6zM521 361h7v4h-7zM528 361h7v5h-7zM535 361h3v4h-3zM538 360h3v5h-3zM541 360h1v4h-1zM542 360h2v5h-2zM544 361h1v5h-1zM545 360h1v6h-1zM546 360h1v5h-1zM547 361h2v4h-2zM549 360h4v5h-4zM553 361h3v5h-3zM556 361h10v4h-10zM566 361h3v5h-3zM569 361h4v4h-4zM573 360h8v5h-8zM581 360h1v6h-1zM582 361h7v5h-7zM589 361h4v4h-4zM593 361h2v5h-2zM595 361h4v4h-4zM599 360h3v5h-3zM602 361h1v4h-1zM603 360h2v5h-2zM605 361h2v4h-2zM607 361h4v5h-4zM611 361h7v4h-7zM618 361h6v5h-6zM624 361h1v4h-1zM625 361h2v5h-2zM627 360h3v5h-3zM630 359h3v5h-3zM633 358h2v5h-2zM635 357h1v6h-1zM636 356h1v6h-1zM637 355h1v6h-1zM638 353h1v7h-1zM639 351h1v8h-1zM640 350h1v8h-1zM641 345h1v11h-1zM642 339h1v16h-1zM643 338h1v16h-1zM644 338h1v14h-1zM645 338h1v18h-1zM646 339h1v19h-1zM647 340h1v21h-1zM648 346h1v16h-1zM649 354h1v10h-1zM650 356h1v9h-1zM651 359h1v6h-1zM652 360h1v5h-1zM653 360h1v6h-1zM654 361h4v5h-4zM658 361h5v4h-5zM663 361h10v5h-10zM673 360h2v5h-2zM675 361h1v4h-1zM676 361h9v5h-9zM685 361h2v4h-2zM687 361h11v5h-11zM698 361h1v4h-1zM699 361h7v5h-7zM706 361h3v4h-3zM709 360h3v5h-3zM712 359h1v5h-1zM713 358h1v6h-1zM714 357h1v6h-1zM715 357h2v5h-2zM717 358h1v5h-1zM718 358h1v6h-1zM719 359h1v5h-1zM720 360h1v4h-1zM721 359h1v5h-1zM722 359h1v6h-1zM723 360h2v5h-2zM725 361h7v4h-7zM732 361h2v5h-2zM734 361h3v4h-3zM737 360h4v5h-4zM741 361h2v5h-2zM743 361h1v4h-1zM744 361h6v5h-6zM750 361h3v4h-3zM753 361h18v5h-18zM771 361h1v4h-1zM772 361h35v5h-35zM807 361h3v4h-3zM810 360h3v5h-3zM813 360h1v4h-1zM814 359h2v5h-2zM816 358h1v6h-1zM817 358h2v5h-2zM819 358h1v4h-1zM820 357h1v5h-1zM821 356h1v6h-1zM822 355h1v6h-1zM823 352h1v8h-1zM824 350h1v9h-1zM825 345h1v13h-1zM826 336h1v21h-1zM827 323h1v31h-1zM828 316h1v36h-1zM829 315h1v32h-1zM830 315h1v23h-1zM831 316h1v22h-1zM832 316h1v29h-1zM833 317h1v37h-1zM834 329h1v30h-1zM835 336h1v24h-1zM836 343h1v19h-1zM837 352h1v11h-1zM838 357h1v7h-1zM839 358h1v6h-1zM840 359h1v6h-1zM841 360h1v6h-1zM842 361h10v5h-10zM852 361h2v4h-2zM854 361h19v5h-19zM873 361h1v4h-1zM874 360h3v5h-3zM877 360h2v4h-2zM879 360h4v5h-4zM883 361h1v4h-1zM884 361h5v5h-5zM889 361h2v4h-2zM891 361h7v5h-7zM898 362h2v4h-2zM900 361h4v5h-4zM904 362h5v4h-5zM909 361h5v5h-5zM914 362h3v5h-3zM917 362h2v4h-2zM919 361h3v5h-3zM922 362h1v4h-1z"/></g>
<defs><filter id="soft" x="-5%" y="-5%" width="110%" height="110%" color-interpolation-filters="sRGB"><feGaussianBlur stdDeviation="0.65"/></filter></defs>
<g filter="url(#soft)">
<text class="tk" transform="translate(340.6 53.3) scale(1.0550 1)" text-anchor="end">160,000</text>
<text class="tk" transform="translate(340.6 239.2) scale(1.0550 1)" text-anchor="end">140,000</text>
<text class="tk" transform="translate(338.4 427.4) scale(1.0550 1)" text-anchor="end">120,000</text>
<text class="tk" transform="translate(341.2 613.9) scale(1.0550 1)" text-anchor="end">100,000</text>
<text class="tk" transform="translate(341.2 797.9) scale(1.0550 1)" text-anchor="end">80,000</text>
<text class="tk" transform="translate(339.2 981.6) scale(1.0550 1)" text-anchor="end">60,000</text>
<text class="tk" transform="translate(338.8 1167.7) scale(1.0550 1)" text-anchor="end">40,000</text>
<text class="tk" transform="translate(339.8 1330.3) scale(1.0550 1)" text-anchor="end">20,000</text>
<clipPath id="cp"><rect x="190" y="1351" width="160" height="5.4"/></clipPath>
<g clip-path="url(#cp)"><text class="tk" transform="translate(338.5 1387.0) scale(1.0550 1)" text-anchor="end">70000</text></g>
<text class="tk" transform="translate(366.5 1410.0) scale(1.0550 1)" text-anchor="middle">20</text>
<text class="tk" transform="translate(616.8 1410.0) scale(1.0550 1)" text-anchor="middle">30</text>
<text class="tk" transform="translate(867.6 1410.0) scale(1.0550 1)" text-anchor="middle">40</text>
<text class="tk" transform="translate(1119.0 1410.0) scale(1.0550 1)" text-anchor="middle">50</text>
<text class="tk" transform="translate(1369.7 1410.0) scale(1.0550 1)" text-anchor="middle">60</text>
<text class="tk" transform="translate(1622.0 1410.0) scale(1.0550 1)" text-anchor="middle">70</text>
<text class="tk" transform="translate(1870.5 1410.0) scale(1.0550 1)" text-anchor="middle">80</text>
<text class="tk" transform="translate(2121.5 1410.0) scale(1.0550 1)" text-anchor="middle">90</text>
<text class="ttl" y="129.8"><tspan x="413.2">Phase </tspan><tspan x="642.1">composition </tspan><tspan x="1080.4">of </tspan><tspan x="1166.2">SPS </tspan><tspan x="1327.0">compacted </tspan><tspan x="1717.6" style="letter-spacing:0.45px">samples</tspan></text>
<text class="ax" y="1518.3"><tspan x="946.5" textLength="318.0" lengthAdjust="spacingAndGlyphs">Position 2</tspan><tspan> </tspan><tspan class="th" x="1289.5">&#920;</tspan><tspan> </tspan><tspan x="1359.0">/</tspan><tspan> </tspan><tspan x="1397.5" textLength="119.0" lengthAdjust="spacingAndGlyphs">deg</tspan></text>
<text class="ay" transform="translate(75.3 944.0) rotate(-90) scale(1.0000 1)">Intensity / a.u.</text>
<text class="lg" y="267.0"><tspan x="1321.0">900</tspan><tspan class="sup" dy="-32.0" dx="0.5">o</tspan><tspan x="1439.3" dy="32.0" style="letter-spacing:0.12px">C, initial powder</tspan></text>
<text class="lg" y="355.1"><tspan x="1321.0">900</tspan><tspan class="sup" dy="-32.0" dx="0.5">o</tspan><tspan x="1439.3" dy="32.0" style="letter-spacing:0.12px">C, 1h milled powder</tspan></text>
<text class="lg" y="445.8"><tspan x="1322.0">1 </tspan><tspan dx="-1.5">000</tspan><tspan class="sup" dy="-32.0" dx="0.5">o</tspan><tspan x="1488.2" dy="32.0" style="letter-spacing:0.12px">C, initial powder</tspan></text>
<text class="lg" y="534.3"><tspan x="1322.0">1 </tspan><tspan dx="-1.5">100</tspan><tspan class="sup" dy="-32.0" dx="0.5">o</tspan><tspan x="1488.2" dy="32.0" style="letter-spacing:0.12px">C, 1h milled powder</tspan></text>
<text class="lg" y="623.3"><tspan x="1322.0">1 </tspan><tspan dx="-1.5">000</tspan><tspan class="sup" dy="-32.0" dx="0.5">o</tspan><tspan x="1488.2" dy="32.0" style="letter-spacing:0.12px">C, initial powder</tspan></text>
<text class="lg" y="711.4"><tspan x="1322.0">1 </tspan><tspan dx="-1.5">100</tspan><tspan class="sup" dy="-32.0" dx="0.5">o</tspan><tspan x="1488.2" dy="32.0" style="letter-spacing:0.12px">C, 1h milled powder</tspan></text>
<text class="an" x="466.0" y="789.1">2</text>
<text class="an" x="536.4" y="791.1">1</text>
<text class="an" x="638.9" y="786.4">1</text>
<text class="an" x="917.0" y="763.5">2</text>
<text class="an" x="1087.0" y="798.0">2</text>
<text class="an" x="1483.4" y="765.4">1</text>
<text class="an" x="1645.2" y="811.8">1</text>
<text class="an" x="1941.2" y="787.0">1</text>
<text class="an" x="2015.7" y="807.1">1</text>
<text class="an" x="468.1" y="874.7">2</text>
<text class="an" x="536.4" y="876.7">1</text>
<text class="an" x="641.0" y="882.2">1</text>
<text class="an" x="917.0" y="884.1">2</text>
<text class="an" x="1087.0" y="891.3">2</text>
<text class="an" x="1503.9" y="893.2">1</text>
<text class="an" x="1645.2" y="900.2">1</text>
<text class="an" x="1941.2" y="898.2">1</text>
<text class="an" x="2017.9" y="896.0">1</text>
<text class="an" x="461.5" y="965.0">2</text>
<text class="an" x="529.4" y="981.6">1</text>
<text class="an" x="643.0" y="965.8">1</text>
<text class="an" x="889.4" y="965.8">2</text>
<text class="an" x="1079.6" y="975.2">2</text>
<text class="an" x="1515.7" y="979.6">1</text>
<text class="an" x="1645.2" y="983.8">1</text>
<text class="an" x="1933.5" y="977.5">1</text>
<text class="an" x="2013.0" y="986.6">1</text>
<text class="an" x="536.4" y="1051.6">1</text>
<text class="an" x="641.0" y="1047.0">1</text>
<text class="an" x="1508.3" y="1066.0">1</text>
<text class="an" x="1645.2" y="1072.5">1</text>
<text class="an" x="1941.2" y="1047.1">1</text>
<text class="an" x="2017.9" y="1067.7">1</text>
<text class="an" x="468.1" y="1159.0">2</text>
<text class="an" x="536.4" y="1161.0">1</text>
<text class="an" x="641.0" y="1159.1">1</text>
<text class="an" x="907.8" y="1147.4">2</text>
<text class="an" x="1087.0" y="1168.9">2</text>
<text class="an" x="1522.4" y="1159.0">1</text>
<text class="an" x="1645.2" y="1181.7">1</text>
<text class="an" x="1941.2" y="1158.8">1</text>
<text class="an" x="2017.9" y="1179.5">1</text>
<text class="an" x="536.4" y="1243.0">1</text>
<text class="an" x="641.0" y="1244.3">1</text>
<text class="an" x="1508.3" y="1263.7">1</text>
<text class="an" x="1645.2" y="1264.5">1</text>
<text class="an" x="1941.2" y="1259.0">1</text>
<text class="an" x="2017.9" y="1265.6">1</text>
<text class="an" x="973.8" y="558.3">1</text>
<g fill="#fff"><rect x="162.30" y="48.46" width="9.79" height="5.84"/><rect x="176.53" y="48.46" width="9.39" height="5.84"/><rect x="162.30" y="234.36" width="9.79" height="5.84"/><rect x="176.53" y="234.36" width="9.39" height="5.84"/><rect x="160.10" y="422.56" width="9.79" height="5.84"/><rect x="174.33" y="422.56" width="9.39" height="5.84"/><rect x="162.90" y="609.06" width="9.79" height="5.84"/><rect x="177.13" y="609.06" width="9.39" height="5.84"/><rect x="1517.09" y="347.83" width="10.97" height="8.27"/><rect x="1536.08" y="347.83" width="10.24" height="8.27"/><rect x="1324.69" y="438.53" width="10.97" height="8.27"/><rect x="1343.67" y="438.53" width="10.24" height="8.27"/><rect x="1324.69" y="527.03" width="10.97" height="8.27"/><rect x="1343.67" y="527.03" width="10.24" height="8.27"/><rect x="1371.98" y="527.03" width="10.97" height="8.27"/><rect x="1390.97" y="527.03" width="10.24" height="8.27"/><rect x="1565.99" y="527.03" width="10.97" height="8.27"/><rect x="1584.98" y="527.03" width="10.24" height="8.27"/><rect x="1324.69" y="616.03" width="10.97" height="8.27"/><rect x="1343.67" y="616.03" width="10.24" height="8.27"/><rect x="1324.69" y="704.13" width="10.97" height="8.27"/><rect x="1343.67" y="704.13" width="10.24" height="8.27"/><rect x="1371.98" y="704.13" width="10.97" height="8.27"/><rect x="1390.97" y="704.13" width="10.24" height="8.27"/><rect x="1565.99" y="704.13" width="10.97" height="8.27"/><rect x="1584.98" y="704.13" width="10.24" height="8.27"/></g>
</g>
<polygon fill="#000000" shape-rendering="crispEdges" points="1168.1,242.1 1309.9,242.1 1309.9,244.4 1312.2,244.4 1312.2,251.3 1312.2,251.3 1312.2,251.3 1165.8,251.3 1165.8,251.3 1165.8,251.3 1165.8,244.4 1168.1,244.4"/>
<polygon fill="#ff0000" shape-rendering="crispEdges" points="1165.8,332.6 1312.2,332.6 1312.2,332.6 1312.2,332.6 1312.2,339.5 1309.9,339.5 1309.9,341.8 1168.1,341.8 1168.1,339.5 1165.8,339.5 1165.8,332.6 1165.8,332.6"/>
<polygon fill="#00ff00" shape-rendering="crispEdges" points="1168.1,420.9 1309.9,420.9 1309.9,423.2 1312.2,423.2 1312.2,427.8 1309.9,427.8 1309.9,430.1 1168.1,430.1 1168.1,427.8 1165.8,427.8 1165.8,423.2 1168.1,423.2"/>
<polygon fill="#0000ff" shape-rendering="crispEdges" points="1168.1,509.4 1309.9,509.4 1309.9,511.7 1312.2,511.7 1312.2,516.3 1309.9,516.3 1309.9,518.6 1168.1,518.6 1168.1,516.3 1165.8,516.3 1165.8,511.7 1168.1,511.7"/>
<polygon fill="#00ffff" shape-rendering="crispEdges" points="1168.1,597.8 1309.9,597.8 1309.9,600.1 1312.2,600.1 1312.2,604.7 1309.9,604.7 1309.9,607.0 1168.1,607.0 1168.1,604.7 1165.8,604.7 1165.8,600.1 1168.1,600.1"/>
<polygon fill="#ff00ff" shape-rendering="crispEdges" points="1168.1,686.4 1309.9,686.4 1309.9,688.7 1312.2,688.7 1312.2,695.6 1312.2,695.6 1312.2,695.6 1165.8,695.6 1165.8,695.6 1165.8,695.6 1165.8,688.7 1168.1,688.7"/>
</svg>
</body>
</html>
